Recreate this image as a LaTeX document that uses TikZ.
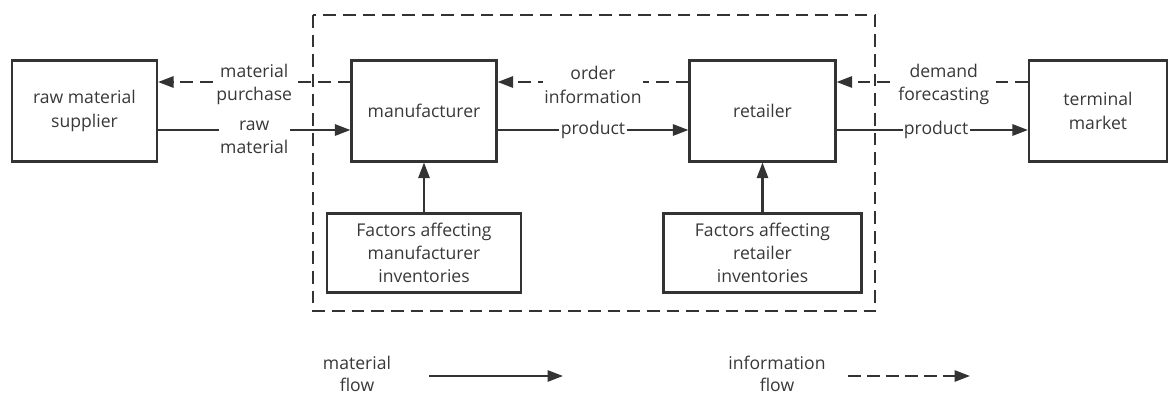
\documentclass[tikz,border=0pt]{standalone}
\usepackage{fontspec}
\setmainfont{Open Sans}
\usetikzlibrary{arrows.meta}
\definecolor{ink}{HTML}{333333}
\definecolor{txtgray}{HTML}{383838}
\newcommand{\boxfont}{\fontsize{12.5}{16.5}\selectfont}

\begin{document}
\begin{tikzpicture}[x=0.025cm,y=-0.025cm,
	blk/.append style={draw=ink,line width=1.5pt,text=txtgray,align=center,font=\boxfont,minimum height=2.525cm,inner sep=2pt},
	fac/.append style={blk,minimum height=1.975cm},
	lbl/.append style={fill=white,text=txtgray,align=center,font=\boxfont,inner sep=1pt},
	mat/.append style={draw=ink,line width=1.5pt,-{Triangle[length=11pt,width=8pt]}},
	inf/.append style={mat,dash pattern=on 9pt off 5pt},
	frm/.append style={draw=ink,line width=1.5pt,dash pattern=on 9pt off 5pt}]
\useasboundingbox (0,0) rectangle (1169,396);
\draw[frm] (313,15) rectangle (875,311);
\node[blk,minimum width=3.625cm] (sup) at (84.5,111) {raw material\\supplier};
\node[blk,minimum width=3.625cm] (man) at (424,111) {manufacturer};
\node[blk,minimum width=3.65cm] (ret) at (762.5,111) {retailer};
\node[blk,minimum width=3.45cm] (mkt) at (1098,111) {terminal\\market};
\node[fac,minimum width=4.85cm] (fman) at (424,253) {Factors affecting\\manufacturer\\inventories};
\node[fac,minimum width=4.95cm] (fret) at (762.5,253) {Factors affecting\\retailer\\inventories};
\draw[inf] (man.west |- 0,82) -- node[lbl,yshift=-2pt] {material\\purchase} (sup.east |- 0,82);
\draw[mat] (sup.east |- 0,130) -- node[lbl,yshift=-5pt] {raw\\material} (man.west |- 0,130);
\draw[inf] (ret.west |- 0,82) -- node[lbl,yshift=-2pt] {order\\information} (man.east |- 0,82);
\draw[mat] (man.east |- 0,130) -- node[lbl] {product} (ret.west |- 0,130);
\draw[inf] (mkt.west |- 0,82) -- node[lbl,pos=.44,yshift=-2pt] {demand\\forecasting} (ret.east |- 0,82);
\draw[mat] (ret.east |- 0,130) -- node[lbl,pos=.52] {product} (mkt.west |- 0,130);
\draw[mat] (fman) -- (man);
\draw[mat] (fret) -- (ret);
% legend
\node[lbl,font=\fontsize{12.5}{15.5}\selectfont] (lmat) at (357,374) {material\\flow};
\coordinate (lm1) at (429,376);
\coordinate (lm2) at (563,376);
\draw[mat] (lm1) -- (lm2);
\node[lbl,font=\fontsize{12.5}{15.5}\selectfont] (linf) at (777,374) {information\\flow};
\coordinate (li1) at (848,376);
\coordinate (li2) at (970,376);
\draw[inf,dash pattern=on 9pt off 4.5pt] (li1) -- (li2);
\end{tikzpicture}
\end{document}
